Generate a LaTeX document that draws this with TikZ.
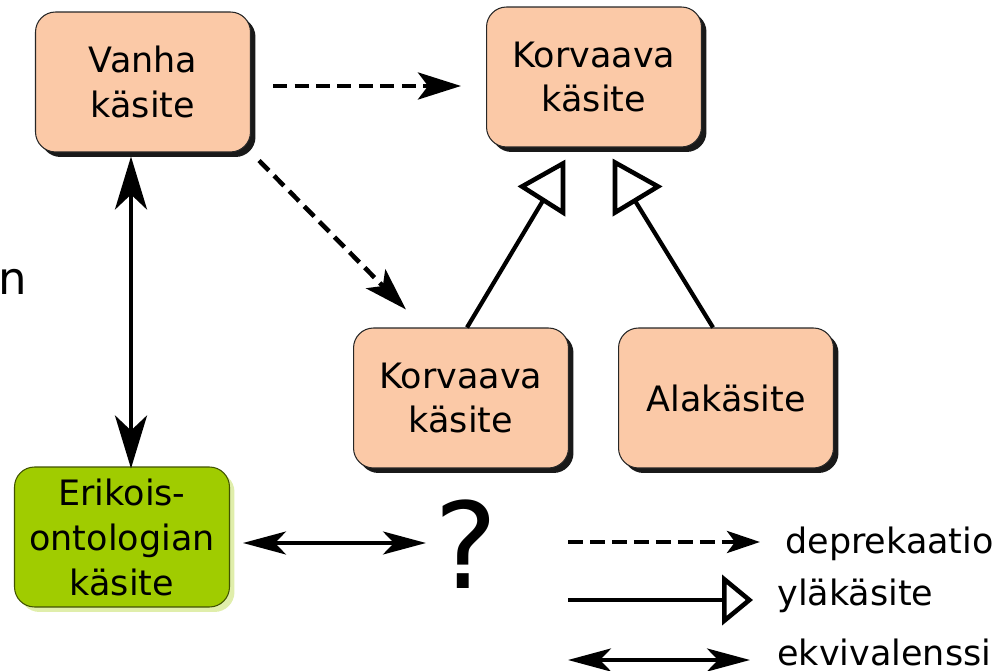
\documentclass[tikz,border=0pt]{standalone}
\usepackage{fontspec}
\setmainfont{DejaVu Sans}
\usetikzlibrary{arrows.meta,positioning,calc,shadows}

\definecolor{kasite}{RGB}{251,201,167}
\definecolor{erikois}{RGB}{160,204,0}

\begin{document}
\begin{tikzpicture}[x=0.02cm,y=-0.02cm,
	basebox/.style={line width=0.6pt, rounded corners=0.4cm,
		minimum width=4.3cm, minimum height=2.8cm, align=center, inner sep=0pt,
		font=\fontsize{19.9}{25.6}\selectfont},
	box/.style={basebox, draw=black!85, fill=kasite,
		drop shadow={fill=black, opacity=0.9, shadow xshift=0.1cm, shadow yshift=-0.1cm}},
	greenbox/.style={basebox, fill=erikois, draw=black!60!erikois,
		drop shadow={fill=erikois!55!white, opacity=0.6, shadow xshift=0.1cm, shadow yshift=-0.1cm}},
	legtext/.style={anchor=base west, inner sep=0pt, font=\fontsize{19.9}{24}\selectfont},
	deprek/.style={line width=2.6pt, dash pattern=on 0.28cm off 0.15cm,
		-{Stealth[length=0.86cm, width=0.54cm, inset=0.2cm]}},
	ylak/.style={line width=2.4pt},
	kolmio/.style={line width=2.6pt, fill=white, line join=miter},
	ekv/.style={line width=2.6pt,
		{Stealth[length=1.06cm, width=0.64cm, inset=0.3cm]}-{Stealth[length=1.06cm, width=0.64cm, inset=0.3cm]}},
	ekvs/.style={line width=1.9pt,
		{Stealth[length=0.86cm, width=0.46cm, inset=0.22cm]}-{Stealth[length=0.86cm, width=0.46cm, inset=0.22cm]}}]
	\useasboundingbox (0,0) rectangle (1006,671);

	% concepts
	\node[box] (vanha) at (143,82) {Vanha\\käsite};
	\node[box] (korv1) at (594,77) {Korvaava\\käsite};
	\node[box] (korv2) at (461,398) {Korvaava\\käsite};
	\node[box] (alak) at (726,398) {Alakäsite};
	\node[greenbox] (eriko) at (122,537) {Erikois-\\ontologian\\käsite};
	\node[anchor=base, inner sep=0pt, font=\fontsize{68}{70}\selectfont] (kysymys) at (466,588) {?};
	\node[anchor=base east, inner sep=0pt, font=\fontsize{25.6}{28}\selectfont] (reuna) at (27,295) {n};

	% deprecation
	\draw[deprek] ($(vanha.east)+(22,4)$) -- ($(korv1.west)+(-25,9)$);
	\draw[deprek] ($(vanha.south east)+(8,8)$) -- ($(korv2.north west)+(53,-18)$);

	% broader concept
	\coordinate (vl) at ($(korv1.south)+(-51,53)$);
	\coordinate (vr) at ($(korv1.south)+(39,50)$);
	\draw[ylak] ($(korv2.north)+(6,0)$) -- (vl);
	\draw[ylak] ($(alak.north)+(-13,0)$) -- (vr);
	\begin{scope}[shift={(korv1.south)}]
		\draw[kolmio] (-72,39) -- (-31,16) -- (-31,65) -- cycle;
		\draw[kolmio] (64,39) -- (21,15) -- (21,65) -- cycle;
	\end{scope}

	% equivalence
	\draw[ekv] ($(eriko.north)+(9,2)$) -- ($(vanha.south)+(-12,4)$);
	\coordinate (ea) at ($(eriko.east)+(13,6)$);
	\draw[ekvs] (ea) -- ($(ea -| kysymys.west)+(-8,0)$);

	% legend
	\node[legtext] (t1) at (785,553) {deprekaatio};
	\node[legtext] (t2) at (777,605) {yläkäsite};
	\node[legtext] (t3) at (777,665) {ekvivalenssi};
	\coordinate (l1) at (568,542);
	\coordinate (l2) at (568,600);
	\coordinate (l3) at (568,660);
	\draw[line width=2.6pt, dash pattern=on 0.3cm off 0.14cm,
		-{Stealth[length=0.66cm, width=0.44cm, inset=0.16cm]}] (l1) -- ($(l1 -| t1.west)+(-25,0)$);
	\draw[ylak, -{Triangle[open, length=0.62cm, width=1cm, line width=2.6pt]}] (l2) -- ($(l2 -| t2.west)+(-24,0)$);
	\draw[ekvs, line width=2.4pt] (l3) -- ($(l3 -| t3.west)+(-27,0)$);
\end{tikzpicture}
\end{document}
